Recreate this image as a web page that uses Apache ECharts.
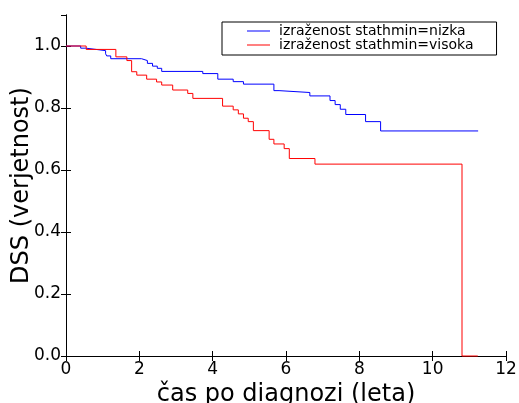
<!DOCTYPE html>
<html>
<head>
<meta charset="utf-8">
<script src="https://cdn.jsdelivr.net/npm/echarts@6/dist/echarts.min.js"></script>
<style>
html,body{margin:0;padding:0;background:#fff;}
#c{width:519px;height:403px;}
</style>
</head>
<body>
<div id="c"></div>
<script>
// Data (Kaplan-Meier step curves)
var seriesNames = ['izraženost stathmin=nizka', 'izraženost stathmin=visoka'];
var blueTimes = [0, 0.40, 0.54, 0.82, 1.08, 1.11, 1.22, 2.06, 2.22, 2.36, 2.49, 2.61, 3.73, 4.14, 4.56, 4.84, 5.67, 5.81, 6.65, 7.20, 7.34, 7.48, 7.63, 8.17, 8.58, 11.24];
var blueSurv  = [1.0, 0.993, 0.989, 0.985, 0.975, 0.968, 0.959, 0.953, 0.944, 0.935, 0.928, 0.918, 0.911, 0.893, 0.885, 0.877, 0.856, 0.850, 0.839, 0.824, 0.811, 0.796, 0.779, 0.756, 0.726, 0.726];
var redTimes  = [0, 0.55, 1.36, 1.66, 1.79, 1.93, 2.20, 2.47, 2.61, 2.91, 3.32, 3.46, 4.27, 4.56, 4.70, 4.84, 4.97, 5.11, 5.54, 5.67, 5.95, 6.09, 6.79, 10.80, 11.23];
var redSurv   = [1.0, 0.989, 0.965, 0.953, 0.917, 0.906, 0.893, 0.884, 0.874, 0.858, 0.847, 0.831, 0.806, 0.794, 0.781, 0.767, 0.756, 0.727, 0.699, 0.684, 0.669, 0.637, 0.619, 0.0, 0.0];
var xTicks = [0, 2, 4, 6, 8, 10, 12];
var yTicks = [0.0, 0.2, 0.4, 0.6, 0.8, 1.0];
var xLabel = 'čas po diagnozi (leta)';
var yLabel = 'DSS (verjetnost)';

function pairs(t, s) { return t.map(function (v, i) { return [v, s[i]]; }); }

var font = 'DejaVu Sans';
var chart = echarts.init(document.getElementById('c'), null, {renderer: 'canvas'});
var axisLine = {show: true, lineStyle: {color: '#000', width: 1}};
var tick = {show: true, inside: true, length: 5, lineStyle: {color: '#000', width: 1}};
chart.setOption({
  animation: false,
  backgroundColor: '#fff',
  textStyle: {fontFamily: font},
  grid: {left: 66, right: 13, top: 15, bottom: 47, containLabel: false, outerBoundsMode: 'none'},
  legend: {
    data: seriesNames,
    orient: 'vertical',
    left: 222, top: 22,
    padding: [2, 23, 3, 25],
    itemGap: 0,
    icon: 'rect',
    itemWidth: 23, itemHeight: 1,
    borderColor: '#000', borderWidth: 1,
    backgroundColor: '#fff',
    textStyle: {fontFamily: font, fontSize: 14, color: '#000', padding: [0, 0, 0, 4]}
  },
  xAxis: [{
    type: 'value', min: xTicks[0], max: xTicks[xTicks.length - 1], interval: 2,
    name: xLabel, nameLocation: 'middle', nameGap: 21,
    nameTextStyle: {fontFamily: font, fontSize: 24, color: '#000'},
    axisLine: axisLine, axisTick: tick, splitLine: {show: false},
    axisLabel: {fontFamily: font, fontSize: 17, color: '#000', margin: 5}
  }, {
    type: 'value', position: 'top', min: 0, max: 12, interval: 2,
    axisLine: axisLine, axisTick: tick, splitLine: {show: false},
    axisLabel: {show: false}
  }],
  yAxis: [{
    type: 'value', min: 0, max: 1.1, interval: 0.2,
    name: yLabel, nameLocation: 'middle', nameGap: 32, nameRotate: 90, nameMoveOverlap: false,
    nameTextStyle: {fontFamily: font, fontSize: 24, color: '#000'},
    axisLine: axisLine, axisTick: tick, splitLine: {show: false},
    axisLabel: {fontFamily: font, fontSize: 17, color: '#000', margin: 5, showMaxLabel: false,
      formatter: function (v) { return yTicks.indexOf(Math.round(v * 10) / 10) >= 0 && v <= 1.0001 ? v.toFixed(1) : ''; }}
  }, {
    type: 'value', position: 'right', min: 0, max: 1.1, interval: 0.2,
    axisLine: axisLine, axisTick: tick, splitLine: {show: false},
    axisLabel: {show: false}
  }],
  series: [{
    name: seriesNames[0], type: 'line', step: 'end', showSymbol: false, symbol: 'none',
    clip: false,
    data: pairs(blueTimes, blueSurv),
    itemStyle: {color: '#0000ff'},
    lineStyle: {color: '#0000ff', width: 1}
  }, {
    name: seriesNames[1], type: 'line', step: 'end', showSymbol: false, symbol: 'none',
    clip: false,
    data: pairs(redTimes, redSurv),
    itemStyle: {color: '#ff0000'},
    lineStyle: {color: '#ff0000', width: 1}
  }]
});
</script>
</body>
</html>
